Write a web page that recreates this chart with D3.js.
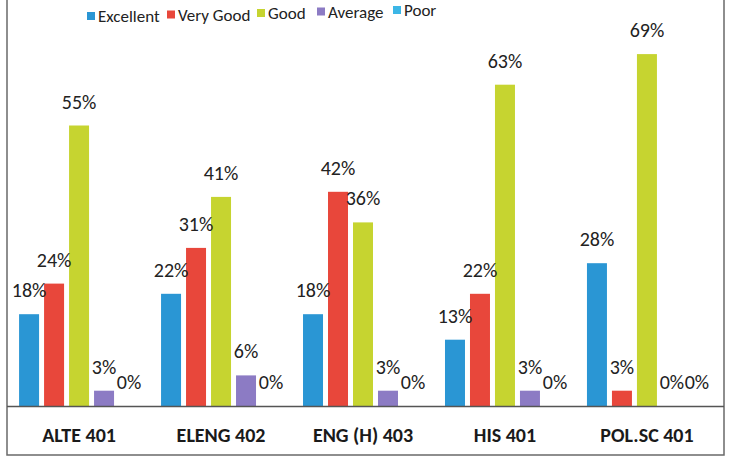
<!DOCTYPE html>
<html>
<head>
<meta charset="utf-8">
<script src="https://cdn.jsdelivr.net/npm/d3@7"></script>
<style>
  html, body { margin: 0; padding: 0; background: #fff; }
  svg { display: block; font-family: Carlito, Lato, "Open Sans", sans-serif; }
</style>
</head>
<body>
<svg id="chart" width="729" height="460"></svg>
<script>
// Courses on the x axis
const courses = ["ALTE 401", "ELENG 402", "ENG (H) 403", "HIS 401", "POL.SC 401"];
// Rating levels (series)
const ratings = ["Excellent", "Very Good", "Good", "Average", "Poor"];
// Percentage of responses per rating, one array per series, in course order
const excellent = [18, 22, 18, 13, 28];
const veryGood  = [24, 31, 42, 22, 3];
const good      = [55, 41, 36, 63, 69];
const average   = [3, 6, 3, 3, 0];
const poor      = [0, 0, 0, 0, 0];
const seriesValues = [excellent, veryGood, good, average, poor];
const colors = ["#2a96d4", "#e8473b", "#c6d430", "#8c7bc4", "#3cb6e6"];

const svg = d3.select("#chart");
const W = 729, H = 460;
const margin = { left: 8, right: 11, top: 40, bottom: 54 };
const baseY = H - margin.bottom;

// Frame around the chart area
svg.append("path")
  .attr("d", `M7,0 V455 H724 V0`)
  .attr("fill", "none")
  .attr("stroke", "#6a6a6a")
  .attr("stroke-width", 1.5);

const x0 = d3.scaleBand().domain(courses).range([margin.left, W - margin.right]).paddingInner(0.155).paddingOuter(0.078);
const x1 = d3.scaleBand().domain(ratings).range([0, x0.bandwidth()]).paddingInner(0.2);
const y = d3.scaleLinear().domain([0, 70]).range([baseY, baseY - 357]);

const rows = courses.map((c, i) => ({ course: c, vals: ratings.map((r, j) => ({ rating: r, v: seriesValues[j][i], color: colors[j] })) }));

const g = svg.append("g");
const groups = g.selectAll("g.course").data(rows).join("g")
  .attr("class", "course")
  .attr("transform", d => `translate(${x0(d.course)},0)`);

groups.selectAll("rect").data(d => d.vals).join("rect")
  .attr("x", d => x1(d.rating))
  .attr("width", x1.bandwidth())
  .attr("y", d => y(d.v))
  .attr("height", d => baseY - y(d.v))
  .attr("fill", d => d.color);

groups.selectAll("text.val").data(d => d.vals).join("text")
  .attr("class", "val")
  .attr("x", d => x1(d.rating) + x1.bandwidth() / 2)
  .attr("y", d => y(d.v) - 17)
  .attr("text-anchor", "middle")
  .attr("font-size", 20)
  .attr("fill", "#222")
  .text(d => d.v + "%");

// Category axis
const xAxis = svg.append("g")
  .attr("transform", `translate(0,${baseY})`)
  .call(d3.axisBottom(x0).tickSize(0).tickPadding(22));
xAxis.select(".domain").attr("stroke", "#555").attr("stroke-width", 1.5)
  .attr("d", `M7,0.5H724`);
xAxis.selectAll("text")
  .attr("font-size", 20)
  .attr("font-weight", "bold")
  .attr("fill", "#1a1a1a")
  .attr("font-family", "Carlito, Lato, 'Open Sans', sans-serif");

// Legend
const legendX = [87, 167, 257, 317, 393];
const legend = svg.append("g");
ratings.forEach((r, i) => {
  const lg = legend.append("g").attr("transform", `translate(${legendX[i]},${16 - i * 1.5})`);
  lg.append("rect").attr("x", 0).attr("y", -4).attr("width", 8).attr("height", 8).attr("fill", colors[i]);
  lg.append("text").attr("x", 11).attr("y", 6).attr("font-size", 17).attr("fill", "#222").text(r);
});
</script>
</body>
</html>
